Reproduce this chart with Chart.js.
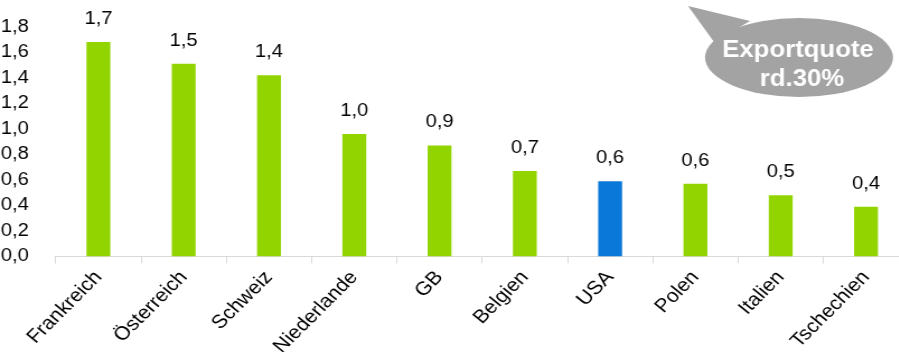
<!DOCTYPE html>
<html><head><meta charset="utf-8">
<script src="https://cdn.jsdelivr.net/npm/chart.js@4/dist/chart.umd.min.js"></script>
<style>
html,body{margin:0;padding:0;overflow:hidden;background:#fff;width:899px;height:352px}
#wrap{width:813px;height:352px;transform:scaleX(1.1193);transform-origin:0 0}
</style>
</head><body><div id="wrap"><canvas id="c" width="813" height="352"></canvas></div>
<script>
const categories = ['Frankreich','Österreich','Schweiz','Niederlande','GB','Belgien','USA','Polen','Italien','Tschechien'];
const values = [1.68, 1.51, 1.42, 0.96, 0.87, 0.67, 0.59, 0.57, 0.48, 0.39];
const highlightCategory = 'USA';
const yMin = 0, yMax = 1.8, yStep = 0.2;
const bubbleLines = ['Exportquote', 'rd.30%'];

const S = 1.1193; // horizontal stretch of the whole picture
const GREEN = '#92d400', BLUE = '#0a78d8';
const FONT = '"Liberation Sans", Arial, sans-serif';
const fmt = v => v.toFixed(1).replace('.', ',');
const bx = x => x / S;

const dataLabels = {
  id: 'dataLabels',
  afterDatasetsDraw(chart) {
    const ctx = chart.ctx;
    const meta = chart.getDatasetMeta(0);
    ctx.save();
    ctx.font = '18px ' + FONT;
    ctx.fillStyle = '#000';
    ctx.textAlign = 'center';
    ctx.textBaseline = 'middle';
    meta.data.forEach((el, i) => {
      ctx.fillText(fmt(values[i]), el.x, el.y - 23);
    });
    ctx.restore();
  }
};

const bubble = {
  id: 'bubble',
  afterDraw(chart) {
    const ctx = chart.ctx;
    ctx.save();
    ctx.fillStyle = '#a3a3a3';
    ctx.beginPath();
    ctx.ellipse(bx(799), 57.5, bx(94), 39.5, 0, 0, Math.PI * 2);
    ctx.fill();
    ctx.beginPath();
    ctx.moveTo(bx(688), 6);
    ctx.lineTo(bx(750), 21);
    ctx.lineTo(bx(714), 42);
    ctx.closePath();
    ctx.fill();
    ctx.fillStyle = '#fff';
    ctx.font = 'bold 23px ' + FONT;
    ctx.textAlign = 'center';
    ctx.textBaseline = 'alphabetic';
    ctx.fillText(bubbleLines[0], bx(798), 57);
    ctx.fillText(bubbleLines[1], bx(802), 86);
    ctx.restore();
  }
};

new Chart(document.getElementById('c'), {
  type: 'bar',
  data: {
    labels: categories,
    datasets: [{
      data: values,
      backgroundColor: categories.map(c => c === highlightCategory ? BLUE : GREEN),
      borderWidth: 0,
      barPercentage: 0.28,
      categoryPercentage: 1
    }]
  },
  options: {
    responsive: false,
    animation: false,
    devicePixelRatio: 1,
    layout: { padding: { top: 21.5, left: 0, right: 1.2, bottom: 0 } },
    plugins: { legend: { display: false }, tooltip: { enabled: false } },
    scales: {
      y: {
        min: yMin, max: yMax,
        ticks: { stepSize: yStep, callback: v => fmt(v), font: { size: 18, family: FONT }, color: '#000', padding: 16 },
        grid: { display: false },
        border: { display: false },
        afterFit: s => { s.width = 49.8; }
      },
      x: {
        grid: { offset: true, drawOnChartArea: false, drawTicks: true, tickLength: 7, color: '#d9d9d9' },
        border: { display: true, color: '#d9d9d9' },
        ticks: { minRotation: 48, maxRotation: 48, padding: 3, font: { size: 19, family: FONT }, color: '#000' },
        afterFit: s => { s.height = 95.5; s.paddingLeft = 0; s.paddingRight = 0; }
      }
    }
  },
  plugins: [dataLabels, bubble]
});
</script></body></html>
